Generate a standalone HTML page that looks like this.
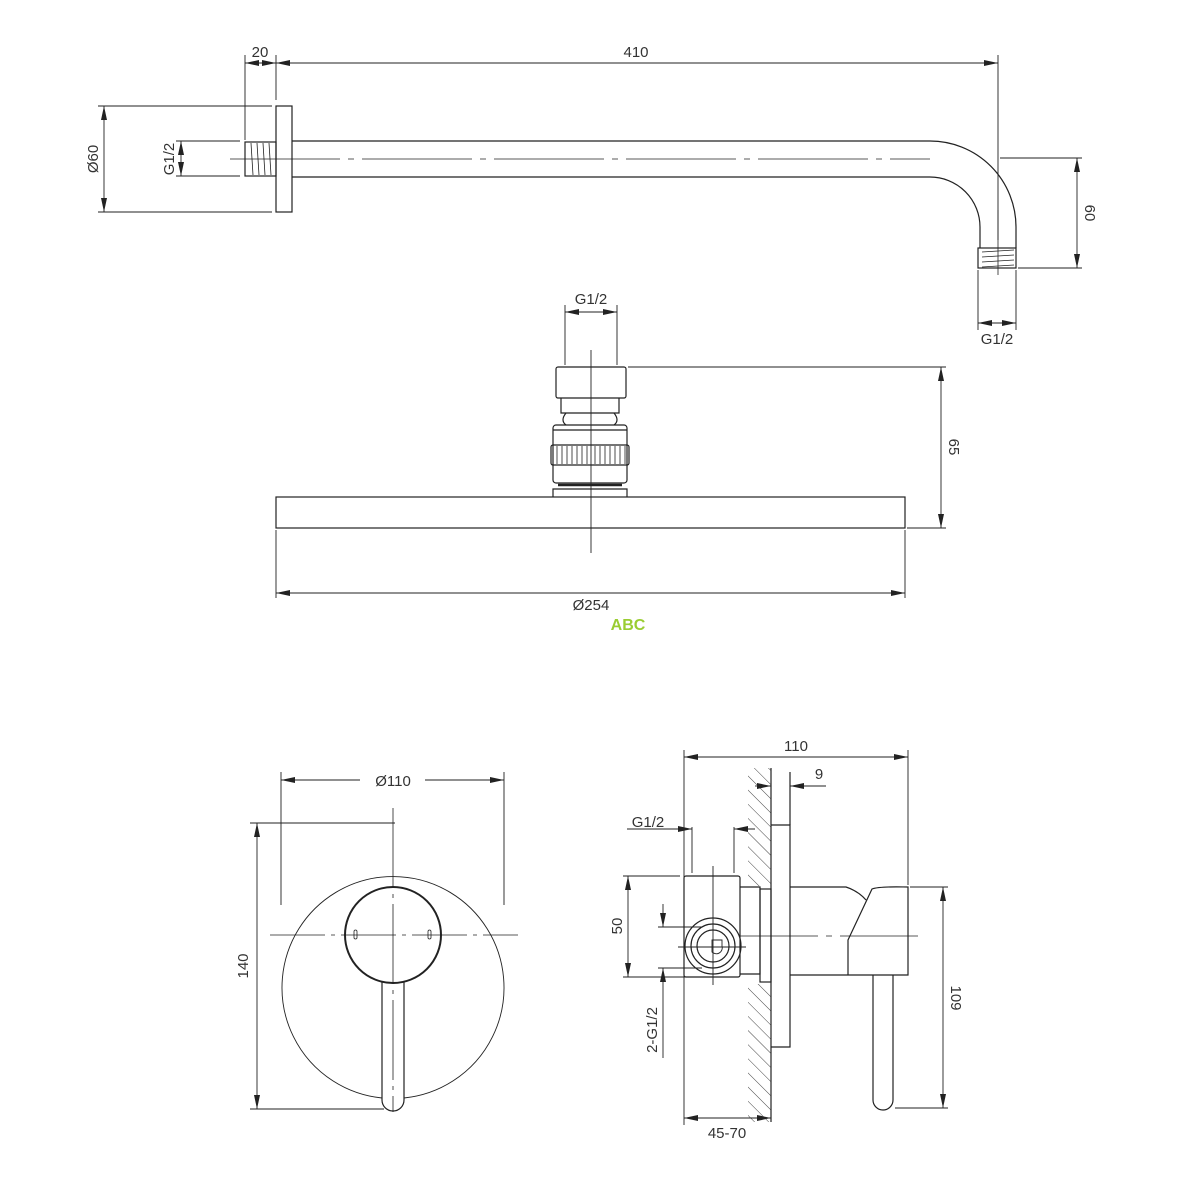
<!DOCTYPE html>
<html><head><meta charset="utf-8"><style>
html,body{margin:0;padding:0;background:#fff}
svg{display:block}
text{font-family:"Liberation Sans",sans-serif;font-size:15px;fill:#333}
</style></head><body>
<svg width="1200" height="1200" viewBox="0 0 1200 1200" xmlns="http://www.w3.org/2000/svg">
<defs>
<marker id="a" viewBox="0 0 14 6" refX="14" refY="3" markerWidth="14" markerHeight="6" orient="auto-start-reverse" markerUnits="userSpaceOnUse"><path d="M0,0 L14,3 L0,6 z" fill="#222"/></marker>
<pattern id="h" width="10" height="10" patternUnits="userSpaceOnUse" patternTransform="rotate(-45)"><line x1="0" y1="0" x2="0" y2="10" stroke="#444" stroke-width="1"/></pattern>
</defs>
<g fill="none" stroke="#222" stroke-width="1.2">
<!-- TOP ARM -->
<rect x="276" y="106" width="16" height="106"/>
<rect x="245" y="142" width="31" height="34"/>
<path d="M251,143 l2,32 M257,143 l2,32 M263,143 l2,32 M269,143 l2,32" stroke-width="0.8"/>
<path d="M292,141 H930 A86,86 0 0 1 1016,227 V248"/>
<path d="M292,177 H930 A50,50 0 0 1 980,227 V248"/>
<rect x="978" y="248" width="38" height="20"/>
<path d="M982,252 l32,-2 M982,257 l32,-2 M982,262 l32,-2 M982,267 l32,-2" stroke-width="0.8"/>
<path d="M230,159 H930" stroke-dasharray="110,8,6,8" stroke-width="0.8"/>
<path d="M998,210 V275" stroke-width="0.8"/>
<g stroke-width="0.9">
<path d="M245,55 V140 M276,55 V100 M998,55 V240"/>
<line x1="245" y1="63" x2="276" y2="63" marker-start="url(#a)" marker-end="url(#a)"/>
<line x1="276" y1="63" x2="998" y2="63" marker-start="url(#a)" marker-end="url(#a)"/>
<path d="M98,106 H272 M98,212 H272"/>
<line x1="104" y1="106" x2="104" y2="212" marker-start="url(#a)" marker-end="url(#a)"/>
<path d="M176,141 H240 M176,176 H240"/>
<line x1="181" y1="141" x2="181" y2="176" marker-start="url(#a)" marker-end="url(#a)"/>
<path d="M1000,158 H1082 M1018,268 H1082"/>
<line x1="1077" y1="158" x2="1077" y2="268" marker-start="url(#a)" marker-end="url(#a)"/>
<path d="M978,270 V330 M1016,270 V330"/>
<line x1="978" y1="323" x2="1016" y2="323" marker-start="url(#a)" marker-end="url(#a)"/>
</g>
<!-- SHOWER HEAD -->
<rect x="556" y="367" width="70" height="31" rx="2"/>
<path d="M561,398 V413 H619 V398"/>
<path d="M566,413 C562,418 562,422 566,425 M614,413 C618,418 618,422 614,425"/>
<rect x="553" y="425" width="74" height="58" rx="3"/>
<path d="M553,430 H627"/>
<rect x="551" y="445" width="78" height="20" rx="2"/>
<path d="M557,446 v18 M562,446 v18 M567,446 v18 M572,446 v18 M577,446 v18 M582,446 v18 M587,446 v18 M595,446 v18 M600,446 v18 M605,446 v18 M610,446 v18 M615,446 v18 M620,446 v18 M625,446 v18" stroke-width="0.8"/>
<path d="M558,485 H622" stroke-width="2.5"/>
<path d="M553,497 V489 H627 V497"/>
<rect x="276" y="497" width="629" height="31"/>
<path d="M591,350 V553" stroke-width="0.9"/>
<g stroke-width="0.9">
<path d="M565,305 V365 M617,305 V365"/>
<line x1="565" y1="312" x2="617" y2="312" marker-start="url(#a)" marker-end="url(#a)"/>
<path d="M628,367 H946 M907,528 H946"/>
<line x1="941" y1="367" x2="941" y2="528" marker-start="url(#a)" marker-end="url(#a)"/>
<path d="M276,530 V598 M905,530 V598"/>
<line x1="276" y1="593" x2="905" y2="593" marker-start="url(#a)" marker-end="url(#a)"/>
</g>
<!-- BOTTOM LEFT -->
<path d="M382,1098 A111,111 0 1 1 404,1098" stroke-width="0.9"/>
<circle cx="393" cy="935" r="48" stroke-width="2"/>
<path d="M382,982 V1100 A11,11 0 0 0 404,1100 V982"/>
<path d="M270,935 H518" stroke-dasharray="55,6,4,6" stroke-width="0.8"/>
<path d="M393,808 V1112" stroke-dasharray="80,6,4,6" stroke-width="0.8"/>
<rect x="354" y="930" width="3" height="9" rx="1.5" stroke-width="0.8"/>
<rect x="428" y="930" width="3" height="9" rx="1.5" stroke-width="0.8"/>
<g stroke-width="0.9">
<path d="M281,772 V905 M504,772 V905"/>
<path d="M281,780 H360 M425,780 H504" />
<line x1="281" y1="780" x2="340" y2="780" marker-start="url(#a)"/>
<line x1="445" y1="780" x2="504" y2="780" marker-end="url(#a)"/>
<path d="M250,823 H395 M250,1109 H384"/>
<line x1="257" y1="823" x2="257" y2="1109" marker-start="url(#a)" marker-end="url(#a)"/>
</g>
<!-- BOTTOM RIGHT -->
<rect x="748" y="768" width="23" height="118" fill="url(#h)" stroke="none"/>
<rect x="748" y="984" width="23" height="138" fill="url(#h)" stroke="none"/>
<path d="M771,768 V1122"/>
<path d="M771,825 H790 V1047 H771"/>
<path d="M790,772 V825"/>
<rect x="684" y="876" width="56" height="101" rx="2"/>
<path d="M740,887 H760 V974 H740"/>
<rect x="760" y="889" width="11" height="93"/>
<path d="M790,887 H846 C852,889 860,893 866,900 M790,975 H848 V940 L872,889 C880,886 900,887 908,887 V975 H848"/>
<path d="M873,975 V1100 A10,10 0 0 0 893,1100 V975"/>
<circle cx="713" cy="946" r="28"/>
<circle cx="713" cy="946" r="22"/>
<circle cx="713" cy="946" r="16"/>
<path d="M712,952 A6,6 0 0 0 722,946 V940 H712 z" stroke-width="0.9"/>
<path d="M740,936 H920" stroke-dasharray="78,8,6,8" stroke-width="0.8"/>
<path d="M678,947 H746 M713,866 V985" stroke-width="0.9"/>
<g stroke-width="0.9">
<path d="M684,750 V1125 M908,750 V885"/>
<line x1="684" y1="757" x2="908" y2="757" marker-start="url(#a)" marker-end="url(#a)"/>
<line x1="826" y1="786" x2="790" y2="786" marker-end="url(#a)"/>
<line x1="755" y1="786" x2="771" y2="786" marker-end="url(#a)"/>
<path d="M692,827 V873 M734,827 V873"/>
<line x1="627" y1="829" x2="692" y2="829" marker-end="url(#a)"/>
<line x1="755" y1="829" x2="734" y2="829" marker-end="url(#a)"/>
<path d="M623,876 H680 M623,977 H700"/>
<line x1="628" y1="876" x2="628" y2="977" marker-start="url(#a)" marker-end="url(#a)"/>
<path d="M658,927 H702 M658,968 H702"/>
<line x1="663" y1="904" x2="663" y2="927" marker-end="url(#a)"/>
<line x1="663" y1="1058" x2="663" y2="968" marker-end="url(#a)"/>
<path d="M910,887 H948 M895,1108 H948"/>
<line x1="943" y1="887" x2="943" y2="1108" marker-start="url(#a)" marker-end="url(#a)"/>
<line x1="684" y1="1118" x2="771" y2="1118" marker-start="url(#a)" marker-end="url(#a)"/>
</g>
</g>
<g text-anchor="middle">
<text x="260" y="57">20</text>
<text x="636" y="57">410</text>
<text transform="translate(98,159) rotate(-90)">Ø60</text>
<text transform="translate(174,159) rotate(-90)">G1/2</text>
<text transform="translate(1085,213) rotate(90)">60</text>
<text x="997" y="344">G1/2</text>
<text x="591" y="304">G1/2</text>
<text transform="translate(949,447) rotate(90)">65</text>
<text x="591" y="610">Ø254</text>
<text x="628" y="630" style="fill:#9acd32;font-weight:bold;font-size:16px">ABC</text>
<text x="393" y="786">Ø110</text>
<text transform="translate(248,966) rotate(-90)">140</text>
<text x="796" y="751">110</text>
<text x="819" y="779">9</text>
<text x="648" y="827">G1/2</text>
<text transform="translate(622,926) rotate(-90)">50</text>
<text transform="translate(657,1030) rotate(-90)">2-G1/2</text>
<text transform="translate(951,998) rotate(90)">109</text>
<text x="727" y="1138">45-70</text>
</g>
</svg>
</body></html>
